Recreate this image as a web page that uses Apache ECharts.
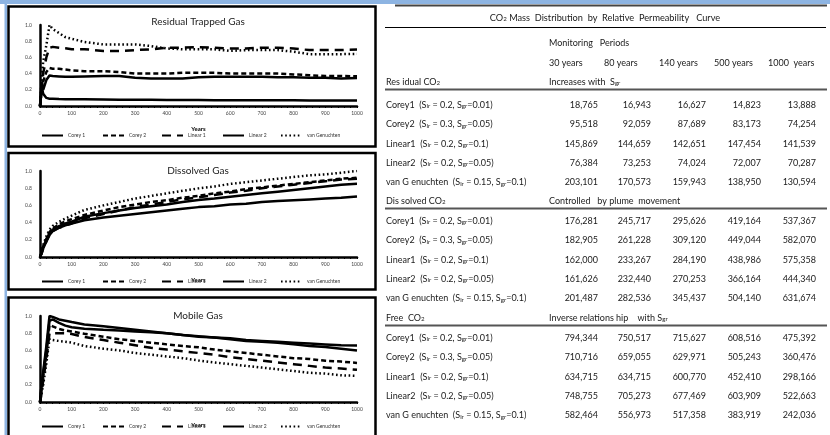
<!DOCTYPE html>
<html><head><meta charset="utf-8">
<script src="https://cdn.jsdelivr.net/npm/echarts@6/dist/echarts.min.js"></script>
<style>html,body{margin:0;padding:0;background:#fff}#c{width:830px;height:435px}</style>
</head><body><div id="c"></div>
<script>
// ---------- chart data (normalised fractions) ----------
const years = [0,5,10,20,30,40,60,80,100,140,200,250,300,350,400,450,500,550,600,650,700,750,800,850,900,950,1000];
const seriesNames = ['Corey 1','Corey 2','Linear 1','Linear 2','van Genuchten'];
const chartTitles = ['Residual Trapped Gas','Dissolved Gas','Mobile Gas'];

const residualCorey1 = [0,0.25,0.15,0.10,0.09,0.09,0.085,0.083,0.083,0.082,0.08,0.078,0.077,0.076,0.075,0.074,0.073,0.072,0.072,0.071,0.071,0.070,0.070,0.069,0.069,0.068,0.068];
const residualCorey2 = [0,0.15,0.30,0.42,0.47,0.46,0.46,0.45,0.44,0.43,0.43,0.42,0.40,0.40,0.40,0.41,0.41,0.41,0.40,0.40,0.40,0.40,0.39,0.38,0.37,0.37,0.366];
const residualLinear1 = [0,0.20,0.40,0.60,0.718,0.73,0.72,0.712,0.70,0.702,0.68,0.68,0.69,0.70,0.72,0.72,0.726,0.72,0.71,0.71,0.72,0.72,0.71,0.69,0.69,0.69,0.697];
const residualLinear2 = [0,0.30,0.20,0.32,0.376,0.37,0.365,0.36,0.36,0.364,0.37,0.37,0.35,0.34,0.34,0.34,0.355,0.36,0.36,0.36,0.36,0.355,0.355,0.35,0.35,0.34,0.346];
const residualVanG = [0,0.30,0.55,0.75,1.0,0.95,0.90,0.85,0.83,0.79,0.76,0.76,0.76,0.74,0.71,0.70,0.70,0.70,0.68,0.69,0.69,0.69,0.67,0.64,0.64,0.64,0.643];

const dissolvedCorey1 = [0,0.05,0.12,0.20,0.279,0.32,0.36,0.389,0.41,0.468,0.51,0.54,0.57,0.59,0.61,0.64,0.664,0.68,0.70,0.72,0.74,0.76,0.78,0.80,0.82,0.84,0.851];
const dissolvedCorey2 = [0,0.05,0.12,0.21,0.29,0.33,0.38,0.414,0.44,0.489,0.54,0.58,0.61,0.64,0.66,0.69,0.711,0.74,0.76,0.79,0.81,0.83,0.85,0.87,0.89,0.91,0.921];
const dissolvedLinear1 = [0,0.04,0.10,0.18,0.256,0.30,0.34,0.369,0.39,0.45,0.50,0.54,0.58,0.61,0.64,0.67,0.695,0.72,0.75,0.77,0.80,0.82,0.84,0.86,0.88,0.90,0.911];
const dissolvedLinear2 = [0,0.04,0.10,0.18,0.256,0.30,0.34,0.368,0.39,0.428,0.46,0.48,0.50,0.52,0.54,0.56,0.58,0.59,0.61,0.62,0.64,0.65,0.66,0.67,0.68,0.69,0.703];
const dissolvedVanG = [0,0.06,0.14,0.24,0.319,0.36,0.41,0.447,0.48,0.547,0.60,0.64,0.68,0.71,0.74,0.77,0.798,0.82,0.85,0.87,0.89,0.91,0.93,0.95,0.96,0.98,1.0];

const mobileCorey1 = [0,0.20,0.35,0.65,1.0,0.99,0.96,0.945,0.93,0.901,0.88,0.86,0.84,0.82,0.80,0.78,0.766,0.75,0.73,0.71,0.70,0.69,0.67,0.65,0.64,0.62,0.598];
const mobileCorey2 = [0,0.15,0.30,0.55,0.895,0.88,0.85,0.83,0.82,0.793,0.76,0.73,0.71,0.69,0.67,0.65,0.636,0.61,0.59,0.57,0.55,0.53,0.51,0.50,0.48,0.47,0.454];
const mobileLinear1 = [0,0.10,0.25,0.50,0.799,0.80,0.80,0.799,0.79,0.756,0.72,0.69,0.66,0.63,0.61,0.59,0.570,0.55,0.52,0.50,0.48,0.46,0.44,0.42,0.40,0.39,0.375];
const mobileLinear2 = [0,0.20,0.33,0.60,0.943,0.96,0.92,0.888,0.87,0.853,0.84,0.83,0.82,0.81,0.80,0.78,0.760,0.75,0.74,0.72,0.71,0.70,0.69,0.68,0.67,0.66,0.658];
const mobileVanG = [0,0.10,0.20,0.45,0.733,0.72,0.71,0.701,0.69,0.651,0.62,0.60,0.57,0.55,0.53,0.51,0.483,0.46,0.44,0.42,0.40,0.38,0.36,0.34,0.33,0.31,0.305];

// ---------- table data ----------
const tableTitle = 'CO{s|2} Mass  Distribution  by  Relative  Permeability   Curve';
const periodsLabel = 'Monitoring   Periods';
const periodHeaders = ['30 years','80 years','140 years','500 years','1000  years'];
const rowLabels = [
  'Corey1  (S{s|lr} = 0.2, S{s|gr}=0.01)',
  'Corey2  (S{s|lr} = 0.3, S{s|gr}=0.05)',
  'Linear1  (S{s|lr} = 0.2, S{s|gr}=0.1)',
  'Linear2  (S{s|lr} = 0.2, S{s|gr}=0.05)',
  'van G enuchten  (S{s|lr} = 0.15, S{s|gr}=0.1)'
];
const sectionTitles = ['Res idual CO{s|2}','Dis solved CO{s|2}','Free  CO{s|2}'];
const sectionNotes = ['Increases with  S{s|gr}','Controlled   by plume  movement','Inverse relations hip    with S{s|gr}'];
const residualCO2 = [[18765,16943,16627,14823,13888],[95518,92059,87689,83173,74254],[145869,144659,142651,147454,141539],[76384,73253,74024,72007,70287],[203101,170573,159943,138950,130594]];
const dissolvedCO2 = [[176281,245717,295626,419164,537367],[182905,261228,309120,449044,582070],[162000,233267,284190,438986,575358],[161626,232440,270253,366164,444340],[201487,282536,345437,504140,631674]];
const freeCO2 = [[794344,750517,715627,608516,475392],[710716,659055,629971,505243,360476],[634715,634715,600770,452410,298166],[748755,705273,677469,603909,522663],[582464,556973,517358,383919,242036]];

// ---------- build ----------
const chartData = [
  [residualCorey1,residualCorey2,residualLinear1,residualLinear2,residualVanG],
  [dissolvedCorey1,dissolvedCorey2,dissolvedLinear1,dissolvedLinear2,dissolvedVanG],
  [mobileCorey1,mobileCorey2,mobileLinear1,mobileLinear2,mobileVanG]
];
const lineTypes = ['solid',[5,3],[9,6],'solid',[1.6,2.6]];
const gridTops = [25,171,316];
const gridHeights = [81,86,86];
const titleY = [12,161,306];
const legendY = [133,279,424];
const legendX = [41,102,161,222,280];
const FONT = 'Lato';

const grids=[], xAxes=[], yAxes=[], series=[], titles=[], legends=[];
for (let g=0; g<3; g++){
  grids.push({left:40, top:gridTops[g], width:317, height:gridHeights[g]});
  xAxes.push({type:'value', gridIndex:g, min:0, max:1000, interval:100,
    name:'Years', nameLocation:'middle', nameGap:20,
    nameTextStyle:{fontSize:6, fontFamily:FONT, color:'#000', fontWeight:'bold'},
    axisLine:{show:true, onZero:false, lineStyle:{color:'#000', width:2.5}},
    axisTick:{show:true, length:2, lineStyle:{color:'#000', width:1}},
    minorTick:{show:true, splitNumber:5, length:2, lineStyle:{color:'#000'}},
    splitLine:{show:false},
    axisLabel:{fontSize:5, color:'#444', fontFamily:FONT, margin:5, formatter:v=>String(v)}});
  yAxes.push({type:'value', gridIndex:g, min:0, max:1, interval:0.2,
    axisLine:{show:true, lineStyle:{color:'#000', width:2.5}},
    axisTick:{show:false}, splitLine:{show:false},
    axisLabel:{fontSize:5, color:'#444', fontFamily:FONT, margin:8, formatter:v=>v.toFixed(1)}});
  titles.push({text:chartTitles[g], left:193, top:titleY[g], textAlign:'center',
    textStyle:{fontSize:10, fontWeight:'normal', color:'#222', fontFamily:FONT}});
  for (let s=0; s<5; s++){
    legends.push({top:legendY[g], left:legendX[s], itemWidth:21, itemHeight:6, itemGap:0, padding:0,
      itemStyle:{opacity:0},
      textStyle:{fontSize:5, color:'#333', fontFamily:FONT},
      data:[seriesNames[s]], selectedMode:false});
    series.push({name:seriesNames[s], type:'line', xAxisIndex:g, yAxisIndex:g,
      symbol:'none', animation:false, silent:true, color:'#000',
      lineStyle:{color:'#000', width:2.5, type:lineTypes[s]},
      data:years.map((y,k)=>[y, chartData[g][s][k]])});
  }
}

// table graphics
const graphic = [];
const blue = '#8db4e2';
graphic.push({type:'rect', shape:{x:0,y:0,width:830,height:4}, style:{fill:blue}, z:0});
graphic.push({type:'rect', shape:{x:4.5,y:0,width:2.5,height:435}, style:{fill:blue}, z:0});
[[8.5,6.5,367,140],[8.5,153,367,136.5],[8.5,297.5,367,150]].forEach(r=>{
  graphic.push({type:'rect', shape:{x:r[0],y:r[1],width:r[2],height:r[3]}, style:{fill:null, stroke:'#000', lineWidth:2.5}, z:10});
});
const rich = {s:{fontSize:6.2, fontFamily:FONT, verticalAlign:'bottom', padding:[3,0,0,0]}};
function txt(x,y,t,align,size){
  graphic.push({type:'text', x:x, y:y, z:10, style:{text:t, fontSize:size||9, fontFamily:FONT, fill:'#1a1a1a',
    align:align||'left', verticalAlign:'middle', rich:rich}});
}
function hline(y,x1,x2,w,c){ graphic.push({type:'line', shape:{x1:x1,y1:y,x2:x2,y2:y}, style:{stroke:c, lineWidth:w}, z:10}); }
hline(5.5,395,827,2.2,'#444');
txt(605,18,tableTitle,'center',9.2);
hline(27.5,385,826,1,'#000');
txt(549,43,periodsLabel);
const headLeft = [549,604,659,714,768];
periodHeaders.forEach((h,i)=>txt(headLeft[i],63,h));
const colRight = [598,651,706,761,816];
const sections = [residualCO2, dissolvedCO2, freeCO2];
const secHeadY = [82,201,318];
const secRowY = [105,221,338];
sections.forEach((rows,si)=>{
  txt(386,secHeadY[si],sectionTitles[si]);
  txt(549,secHeadY[si],sectionNotes[si]);
  hline(secHeadY[si]+7.5,385,827,2,'#555');
  rows.forEach((vals,ri)=>{
    const y = secRowY[si] + ri*19.3;
    txt(386,y,rowLabels[ri]);
    vals.forEach((v,ci)=>txt(colRight[ci],y,v.toLocaleString('en-US'),'right'));
  });
});

const chart = echarts.init(document.getElementById('c'), null, {renderer:'canvas'});
chart.setOption({backgroundColor:'#fff', animation:false, title:titles, legend:legends,
  grid:grids, xAxis:xAxes, yAxis:yAxes, series:series, graphic:graphic});
</script></body></html>
